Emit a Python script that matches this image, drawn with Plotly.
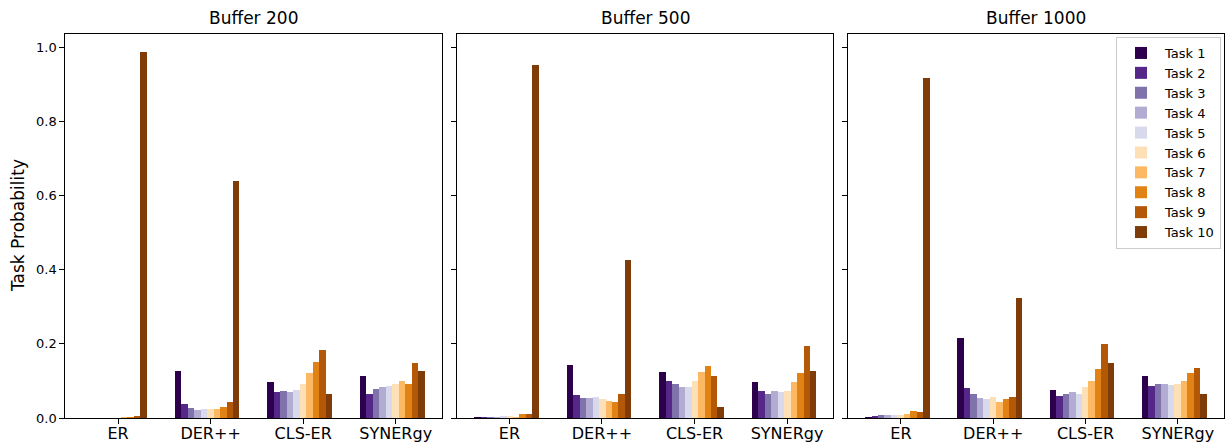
import plotly.graph_objects as go

methods = ["ER", "DER++", "CLS-ER", "SYNERgy"]
tasks = [f"Task {i}" for i in range(1, 11)]
buffers = ["Buffer 200", "Buffer 500", "Buffer 1000"]

# probabilities[buffer][method] -> list over tasks 1..10
buf200 = {
    "ER":      [0.000, 0.000, 0.000, 0.000, 0.000, 0.000, 0.001, 0.002, 0.005, 0.986],
    "DER++":   [0.128, 0.037, 0.026, 0.021, 0.023, 0.023, 0.023, 0.029, 0.043, 0.638],
    "CLS-ER":  [0.096, 0.069, 0.072, 0.069, 0.075, 0.093, 0.120, 0.150, 0.182, 0.064],
    "SYNERgy": [0.112, 0.066, 0.077, 0.083, 0.085, 0.091, 0.101, 0.093, 0.147, 0.128],
}
buf500 = {
    "ER":      [0.002, 0.002, 0.002, 0.001, 0.004, 0.004, 0.001, 0.010, 0.010, 0.951],
    "DER++":   [0.142, 0.061, 0.053, 0.053, 0.056, 0.050, 0.045, 0.042, 0.064, 0.426],
    "CLS-ER":  [0.123, 0.099, 0.093, 0.083, 0.083, 0.099, 0.123, 0.139, 0.112, 0.031],
    "SYNERgy": [0.096, 0.072, 0.066, 0.072, 0.069, 0.072, 0.096, 0.120, 0.193, 0.128],
}
buf1000 = {
    "ER":      [0.002, 0.004, 0.007, 0.007, 0.007, 0.007, 0.010, 0.018, 0.015, 0.916],
    "DER++":   [0.217, 0.080, 0.066, 0.053, 0.050, 0.056, 0.042, 0.050, 0.056, 0.323],
    "CLS-ER":  [0.075, 0.058, 0.064, 0.069, 0.064, 0.083, 0.099, 0.131, 0.199, 0.147],
    "SYNERgy": [0.112, 0.085, 0.093, 0.093, 0.088, 0.093, 0.099, 0.120, 0.134, 0.064],
}
all_data = [buf200, buf500, buf1000]

colors = ["#2d004b", "#542788", "#8073ac", "#b2abd2", "#d8daeb",
          "#fee0b6", "#fdb863", "#e08214", "#b35806", "#7f3b08"]

W, H = 1225, 442
bar_w = 0.07
FONT = "DejaVu Sans"

panel_px = [(65.3, 442.0), (456.7, 833.3), (848.3, 1224.0)]
y_px = (418.0, 34.0)
ydom = [(H - y_px[0]) / H, (H - y_px[1]) / H]

fig = go.Figure()
for p, data in enumerate(all_data):
    xa = "x" if p == 0 else f"x{p+1}"
    ya = "y" if p == 0 else f"y{p+1}"
    for i, t in enumerate(tasks):
        fig.add_trace(go.Bar(
            x=[m + (i - 5) * bar_w for m in range(len(methods))],
            y=[data[m][i] for m in methods],
            width=bar_w,
            name=t,
            legendgroup=t,
            showlegend=(p == 2),
            marker=dict(color=colors[i], line=dict(width=0)),
            xaxis=xa, yaxis=ya,
            hoverinfo="skip",
        ))

ymax = max(max(v) for d in all_data for v in d.values()) * 1.05

layout = dict(
    width=W, height=H,
    margin=dict(l=0, r=0, t=0, b=0, autoexpand=False),
    plot_bgcolor="white", paper_bgcolor="white",
    barmode="overlay",
    font=dict(family=FONT, color="black"),
    bargap=0,
    legend=dict(
        x=1221 / W, xanchor="right", y=(H - 37) / H, yanchor="top",
        bordercolor="#cccccc", borderwidth=1, bgcolor="white",
        font=dict(size=13, family=FONT), tracegroupgap=0,
        itemwidth=38,
    ),
)
annotations = []
for p in range(3):
    sfx = "" if p == 0 else str(p + 1)
    x0, x1 = panel_px[p]
    layout["xaxis" + sfx] = dict(
        domain=[x0 / W, x1 / W], anchor="y" + sfx,
        range=[-0.57, 3.5], automargin=False,
        tickmode="array", tickvals=list(range(len(methods))), ticktext=methods,
        ticks="outside", ticklen=5, tickwidth=1, tickcolor="black",
        ticklabelstandoff=-4,
        showline=True, mirror=True, linecolor="black", linewidth=1,
        showgrid=False, zeroline=False,
        tickfont=dict(size=16, family=FONT),
    )
    layout["yaxis" + sfx] = dict(
        domain=ydom, anchor="x" + sfx,
        range=[0, ymax], automargin=False,
        tickmode="array", tickvals=[0, 0.2, 0.4, 0.6, 0.8, 1.0],
        tickformat=".1f",
        showticklabels=(p == 0),
        ticks="outside", ticklen=5, tickwidth=1, tickcolor="black",
        showline=True, mirror=True, linecolor="black", linewidth=1,
        showgrid=False, zeroline=False,
        tickfont=dict(size=13, family=FONT),
    )
    if p > 0:
        layout["yaxis" + sfx]["matches"] = "y"
    annotations.append(dict(
        text=buffers[p], x=(x0 + x1) / 2 / W, y=(H - 18) / H,
        xref="paper", yref="paper", xanchor="center", yanchor="middle",
        showarrow=False, font=dict(size=17, family=FONT),
    ))
annotations.append(dict(
    text="Task Probability", x=18 / W, y=(H - 226) / H,
    xref="paper", yref="paper", xanchor="center", yanchor="middle",
    textangle=-90, showarrow=False, font=dict(size=17, family=FONT),
))
layout["annotations"] = annotations
fig.update_layout(**layout)
fig.write_html(
    "out.html",
    config={"displayModeBar": False},
    post_script="document.body.style.margin='0';document.body.style.overflow='hidden';",
)
